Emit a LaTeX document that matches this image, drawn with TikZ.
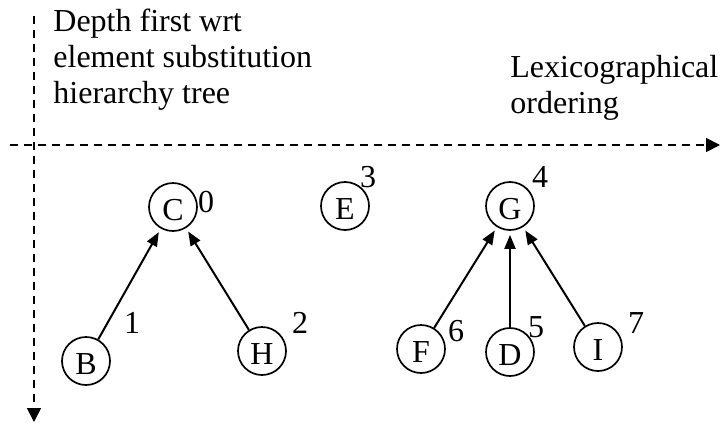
\documentclass[tikz,border=0pt]{standalone}
\usepackage{fontspec}
\setmainfont{Liberation Serif}
\usetikzlibrary{arrows.meta}
\begin{document}
\begin{tikzpicture}[x=0.5pt,y=-0.5pt,
  every node/.style={font=\fontsize{16}{18}\selectfont},
  state/.style={circle,draw,line width=0.85pt,minimum size=24pt,inner sep=0pt,text height=13.6pt,text depth=0pt},
  num/.style={inner sep=0pt,anchor=base},
  edge/.style={line width=1pt,-{Triangle[length=7pt,width=5.5pt]},shorten >=2pt},
  axis/.style={line width=0.8pt,dash pattern=on 4pt off 3pt,-{Triangle[length=7pt,width=7pt]}},
  txt/.style={align=left,inner sep=0pt,anchor=north west}]
\useasboundingbox (0,0) rectangle (721,423);
% axes
\coordinate (hs) at (10,145);
\coordinate (he) at (720,145);
\coordinate (vs) at (34,16);
\coordinate (ve) at (34,422);
\draw[axis] (hs) -- (he);
\draw[axis] (vs) -- (ve);
% texts
\node[txt] (t1) at (53,9) {Depth first wrt\\element substitution\\hierarchy tree};
\node[txt] (t2) at (510,55) {Lexicographical\\ordering};
% nodes
\node[state] (C) at (173,207) {C};
\node[state] (B) at (86,361) {B};
\node[state] (H) at (262,351) {H};
\node[state] (E) at (345,206) {E};
\node[state] (G) at (510,206) {G};
\node[state] (F) at (421,349) {F};
\node[state] (D) at (510,352) {D};
\node[state] (I) at (598,347) {I};
% numbers
\node[num] (n0) at (206,212) {0};
\node[num] (n1) at (132,333) {1};
\node[num] (n2) at (300,333) {2};
\node[num] (n3) at (368,187) {3};
\node[num] (n4) at (540,187) {4};
\node[num] (n5) at (536,337) {5};
\node[num] (n6) at (456,341) {6};
\node[num] (n7) at (636,333) {7};
% edges
\draw[edge] (B) -- (C);
\draw[edge] (H) -- (C);
\draw[edge] (F) -- (G);
\draw[edge] (D) -- (G);
\draw[edge] (I) -- (G);
\end{tikzpicture}
\end{document}
